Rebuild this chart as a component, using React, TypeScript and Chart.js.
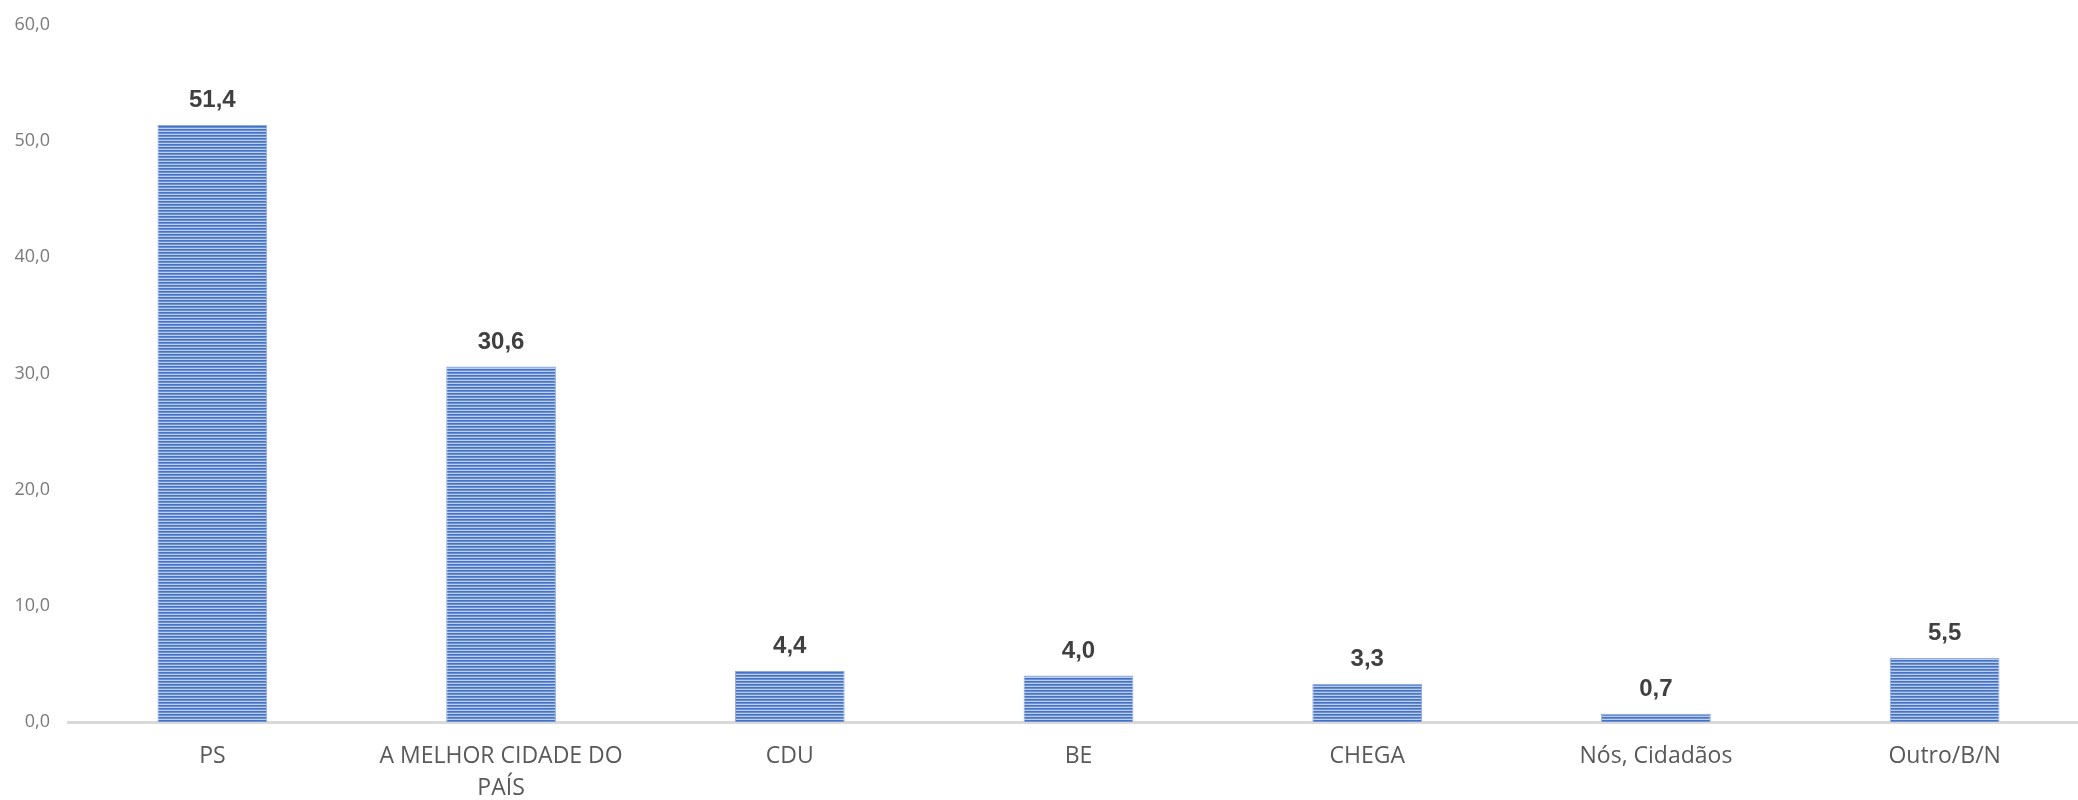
import React, { useEffect, useRef } from "react";
import { Chart, registerables } from "chart.js";

Chart.register(...registerables);

const categories: (string | string[])[] = [
  "PS",
  ["A MELHOR CIDADE DO", "PAÍS"],
  "CDU",
  "BE",
  "CHEGA",
  "Nós, Cidadãos",
  "Outro/B/N",
];
const values: number[] = [51.4, 30.6, 4.4, 4.0, 3.3, 0.7, 5.5];
const yTicks: number[] = [0, 10, 20, 30, 40, 50, 60];

const FONT = "'Open Sans', 'Noto Sans', sans-serif";
const LABEL_FONT = "'Liberation Sans', Arial, sans-serif";
const fmt = (v: number) => v.toFixed(1).replace(".", ",");

function makePattern(ctx: CanvasRenderingContext2D): CanvasPattern | string {
  const c = document.createElement("canvas");
  c.width = 8;
  c.height = 3;
  const g = c.getContext("2d");
  if (!g) return "#4472C4";
  g.fillStyle = "#4472C4";
  g.fillRect(0, 0, 8, 1);
  g.fillStyle = "#6a8fd3";
  g.fillRect(0, 1, 8, 1);
  g.fillStyle = "#bccdec";
  g.fillRect(0, 2, 8, 1);
  return ctx.createPattern(c, "repeat") || "#4472C4";
}

const valueLabels = {
  id: "valueLabels",
  afterDatasetsDraw(chart: any) {
    const ctx = chart.ctx;
    const meta = chart.getDatasetMeta(0);
    ctx.save();
    ctx.font = `bold 24px ${LABEL_FONT}`;
    ctx.fillStyle = "#404040";
    ctx.textAlign = "center";
    ctx.textBaseline = "alphabetic";
    meta.data.forEach((bar: any, i: number) => {
      ctx.fillText(fmt(values[i]), bar.x, bar.y - 18);
    });
    ctx.restore();
  },
};

export default function App() {
  const ref = useRef<HTMLCanvasElement | null>(null);
  useEffect(() => {
    const canvas = ref.current;
    if (!canvas) return;
    let chart: Chart | null = null;
    let cancelled = false;
    const build = () => {
      if (cancelled) return;
      const ctx = canvas.getContext("2d")!;
      const pattern = makePattern(ctx);
      chart = new Chart(canvas, {
        type: "bar",
        data: {
          labels: categories,
          datasets: [
            {
              data: values,
              backgroundColor: pattern as any,
              borderColor: "#8eaadf",
              borderWidth: 1,
              categoryPercentage: 1,
              barPercentage: 0.38,
            },
          ],
        },
        options: {
          responsive: false,
          animation: false,
          layout: { padding: { top: 25, left: 0, right: 6, bottom: 0 } },
          plugins: {
            legend: { display: false },
            tooltip: { enabled: false },
          },
          scales: {
            x: {
              grid: { display: false, drawTicks: false },
              border: { display: true, color: "#d9d9d9", width: 3 },
              ticks: {
                color: "#595959",
                font: { family: FONT, size: 23, lineHeight: 1.38 },
                padding: 19,
                maxRotation: 0,
                autoSkip: false,
              },
              afterFit: (s: any) => {
                s.height = 78;
              },
            },
            y: {
              min: 0,
              max: 60,
              grid: { display: false, drawTicks: false },
              border: { display: false },
              afterBuildTicks: (s: any) => {
                s.ticks = yTicks.map((v) => ({ value: v }));
              },
              ticks: {
                color: "#7a7a7a",
                font: { family: FONT, size: 18 },
                padding: 18,
                callback: (v: any) => fmt(Number(v)),
              },
              afterFit: (s: any) => {
                s.width = 68;
                s.paddingTop = 0;
                s.paddingBottom = 0;
              },
            },
          },
        },
        plugins: [valueLabels],
      });
    };
    const fonts = (document as any).fonts;
    if (fonts && fonts.load) {
      Promise.all([
        fonts.load(`bold 24px 'Liberation Sans'`),
        fonts.load(`23px 'Open Sans'`),
        fonts.load(`18px 'Open Sans'`),
      ]).then(build, build);
    } else build();
    return () => {
      cancelled = true;
      if (chart) chart.destroy();
    };
  }, []);

  return (
    <div
      style={{
        position: "absolute",
        left: 0,
        top: 0,
        width: 2078,
        height: 800,
        overflow: "hidden",
        background: "#fff",
      }}
    >
      <canvas ref={ref} width={2095} height={800} style={{ display: "block" }} />
    </div>
  );
}
